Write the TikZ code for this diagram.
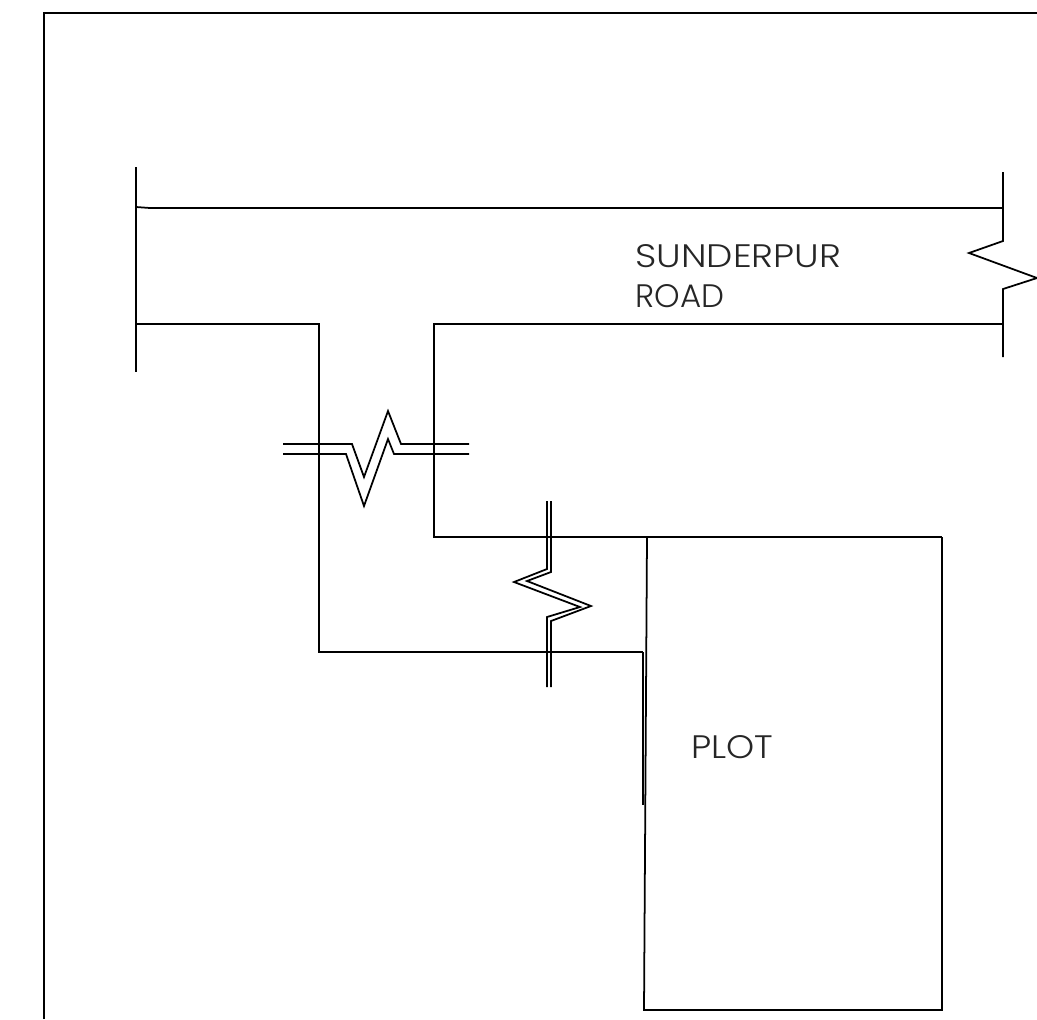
\documentclass[tikz,border=0pt]{standalone}
\usepackage{fontspec}
\usepackage{xcolor}
\usepackage{tikz}
\usetikzlibrary{positioning,calc}
\newfontfamily\platefont{Poppins Light}
\tikzset{
    roadline/.style={line width=1pt,line join=miter},
    heavyline/.style={line width=1.5pt},
    maplabel/.style={anchor=base west,inner sep=0pt,font=\fontsize{18.5}{23}\platefont,text=black!85}
}

\begin{document}
\begin{tikzpicture}[x=0.02cm,y=-0.02cm]
    \useasboundingbox (0,0) rectangle (1037,1019);
    % Sheet border
    \draw[roadline] (44,1019) -- (44,13) -- (1037,13);
    % Sunderpur road
    \draw[roadline] (136,167) -- (136,372);
    \draw[roadline] (136,207) -- (150,208) -- (1003,208);
    \draw[roadline] (1003,172) -- (1003,241) -- (969,253) -- (1037,278) -- (1003,289) -- (1003,357);
    \node[maplabel] (road1) at (635,267) {\addfontfeature{FakeStretch=1.145}SUNDERPUR};
    \node[maplabel] (road2) at (635,307) {ROAD};
    % Side lane
    \draw[roadline] (136,324) -- (319,324) -- (319,652) -- (643,652);
    \draw[roadline] (1003,324) -- (434,324) -- (434,537) -- (942,537);
    % Plot
    \draw[roadline] (647,537) -- (644,1010) -- (942,1010) -- (942,537);
    \draw[heavyline] (643,652) -- (643,805);
    \node[maplabel] (plot) at (691,758) {\addfontfeature{FakeStretch=1.1}PLOT};
    % Break across lane
    \draw[roadline] (283,444) -- (352,444) -- (364,477) -- (388,411) -- (401,444) -- (469,444);
    \draw[roadline] (283,454) -- (346,454) -- (364,506) -- (388,439) -- (394,454) -- (469,454);
    % Break along lane
    \draw[roadline] (547,501) -- (547,569) -- (514,582) -- (580,607) -- (547,617) -- (547,687);
    \draw[roadline] (551,501) -- (551,572) -- (527,581) -- (591,606) -- (551,621) -- (551,687);
\end{tikzpicture}
\end{document}
